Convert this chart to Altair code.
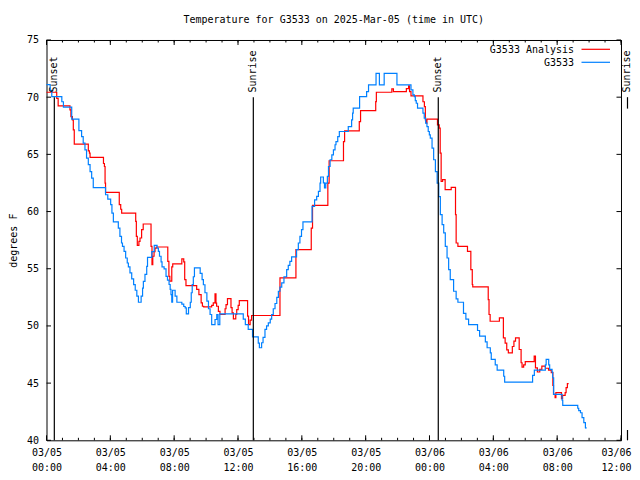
import altair as alt
import pandas as pd

# ---------------- data (hours since 2025-03-05 00:00 UTC, degrees F) ----------------
blue_hours = [0.0, 0.23, 0.33, 0.96, 1.06, 1.58, 2.03, 2.2, 2.3, 2.41, 2.51, 2.62, 2.73, 2.83, 2.93,
              3.7, 3.84, 4.02, 4.1, 4.19, 4.5, 4.6, 4.7, 4.76, 4.86, 4.96, 5.06, 5.13, 5.23, 5.34,
              5.46, 5.56, 5.66, 5.76, 5.93, 6.02, 6.07, 6.17, 6.28, 6.33, 6.6, 6.75, 6.93, 7.01,
              7.08, 7.18, 7.24, 7.37, 7.49, 7.58, 7.68, 7.75, 7.8, 7.85, 7.9, 8.06, 8.17, 8.48,
              8.6, 8.69, 8.76, 8.9, 9.01, 9.07, 9.13, 9.2, 9.27, 9.63, 9.75, 9.83, 9.93, 10.05,
              10.15, 10.25, 10.35, 10.56, 10.67, 10.75, 10.86, 12.33, 12.46, 12.64, 12.91, 13.27,
              13.34, 13.48, 13.57, 13.69, 13.79, 13.9, 14.02, 14.11, 14.21, 14.32, 14.43, 14.53,
              14.63, 14.74, 14.88, 15.05, 15.15, 15.25, 15.36, 15.67, 15.78, 15.88, 15.98, 16.07,
              16.64, 16.8, 16.93, 17.04, 17.14, 17.18, 17.35, 17.42, 17.5, 17.6, 17.67, 17.77,
              17.88, 17.98, 18.08, 18.14, 18.25, 18.35, 18.91, 19.12, 19.18, 19.22, 19.62, 20.06,
              20.18, 20.65, 20.86, 21.16, 21.96, 22.84, 22.96, 23.05, 23.11, 23.17, 23.25, 23.59,
              23.67, 23.76, 23.84, 23.92, 23.99, 24.05, 24.16, 24.26, 24.37, 24.48, 24.58, 24.68,
              24.79, 24.89, 24.99, 25.1, 25.2, 25.3, 25.51, 25.67, 25.78, 26.13, 26.28, 26.45,
              27.01, 27.14, 27.5, 27.61, 27.81, 27.87, 28.12, 28.24, 28.65, 28.71, 30.46, 30.57,
              31.26, 31.31, 31.47, 31.53, 31.68, 31.72, 31.78, 32.31, 32.35, 33.29, 33.35, 33.46,
              33.56, 33.67, 33.77, 33.8]
blue_temps = [71.1, 70.6, 70.05, 69.6, 69.13, 68.08, 67.08, 66.56, 65.98, 65.4, 64.67, 64.1, 63.5, 62.93, 62.1,
              61.47, 61.09, 60.6, 59.87, 59.09, 58.56, 57.83, 57.25, 56.96, 56.52, 55.94, 55.5, 55.16, 54.64, 54.11,
              53.61, 53.12, 52.6, 52.07, 52.6, 53.3, 53.9, 54.5, 55.2, 56.0, 56.5, 57.05, 56.8, 56.52,
              56.09, 55.6, 55.16, 54.99, 54.34, 54.0, 53.62, 53.2, 52.74, 52.07, 53.12, 52.6, 52.07, 51.9,
              51.7, 51.58, 51.06, 51.6, 52.07, 52.9, 53.62, 54.3, 55.07, 54.6, 54.05, 53.6, 52.9, 52.16,
              51.5, 51.0, 50.12, 50.56, 51.0, 50.12, 51.06, 50.6, 50.12, 49.69, 49.05, 48.5,
              48.09, 48.53, 49.0, 49.69, 50.0, 50.27, 50.6, 51.0, 51.5, 51.96, 52.5, 53.03,
              53.4, 53.76, 54.3, 54.92, 55.3, 55.65, 56.03, 56.67, 57.25, 57.83, 58.42, 59.09,
              60.45, 61.03, 61.32, 61.76, 62.49, 63.02, 62.5, 62.06, 62.49, 63.07, 63.94, 64.53,
              64.96, 65.4, 65.84, 66.12, 66.56, 67.0, 67.43, 68.02, 68.6, 69.04, 70.05, 70.49,
              71.07, 72.09, 71.07, 72.09, 71.07, 70.64, 70.2, 70.05, 69.7, 69.47, 69.04, 68.6,
              68.17, 67.73, 67.43, 67.0, 66.7, 66.42, 65.55, 64.53, 63.5, 62.49, 61.3, 59.73,
              58.85, 58.13, 56.96, 55.94, 54.92, 54.05, 53.03, 52.36, 52.07, 51.1, 50.6, 50.12,
              49.6, 49.1, 48.6, 48.09, 47.65, 47.07, 46.6, 46.14, 45.6, 45.09, 45.67, 46.14,
              46.6, 47.07, 46.6, 46.2, 45.97, 45.47, 44.01, 43.5, 43.05, 42.8, 42.6, 42.41,
              41.98, 41.54, 41.1, 41.0]

red_hours = [0.0, 0.64, 0.73, 1.47, 1.53, 1.62, 1.68, 1.74, 2.62, 2.69, 2.73, 3.57, 3.63, 3.67, 3.7,
             4.56, 4.65, 4.71, 5.59, 5.63, 5.69, 5.79, 5.86, 5.96, 6.06, 6.55, 6.61, 6.66, 6.74,
             6.8, 6.88, 7.6, 7.67, 7.73, 7.85, 7.91, 8.48, 8.6, 8.66, 8.74, 9.41, 9.55, 9.69,
             9.77, 9.85, 10.35, 10.45, 10.56, 10.62, 10.66, 10.77, 10.87, 11.19, 11.25, 11.34,
             11.56, 11.63, 11.71, 11.86, 11.92, 12.01, 12.08, 12.6, 12.66, 12.76, 12.85, 14.63,
             15.63, 16.59, 16.67, 17.63, 17.71, 18.61, 18.68, 19.6, 19.68, 20.63, 20.67, 21.64,
             21.74, 22.55, 22.69, 22.75, 22.84, 23.59, 23.68, 23.74, 23.8, 23.84, 24.5, 24.61,
             24.67, 24.73, 24.82, 24.98, 25.36, 25.63, 25.67, 25.78, 26.38, 26.59, 26.68, 26.71,
             27.68, 27.73, 27.8, 28.38, 28.63, 28.74, 28.84, 28.94, 29.19, 29.29, 29.39, 29.62,
             29.74, 29.8, 29.9, 30.0, 30.56, 30.64, 30.76, 30.91, 31.04, 31.26, 31.46, 31.63,
             31.73, 31.77, 31.87, 31.92, 32.27, 32.34, 32.5, 32.56, 32.64, 32.72]
red_temps = [70.43, 69.9, 69.24, 68.89, 68.3, 68.02, 67.14, 65.9, 65.3, 65.11, 64.73, 64.2, 63.94, 62.49, 61.67,
             60.6, 60.2, 59.87, 59.14, 57.83, 57.05, 57.4, 57.69, 58.42, 58.91, 56.96, 55.36, 56.09, 56.5,
             56.81, 56.9, 55.65, 54.34, 53.91, 55.16, 55.42, 55.86, 55.6, 54.05, 53.53, 53.2, 52.74, 52.02,
             51.72, 51.67, 51.8, 52.02, 52.8, 52.0, 51.72, 51.28, 51.0, 51.5, 51.87, 52.39,
             51.6, 51.14, 50.62, 51.0, 51.43, 51.8, 52.22, 50.85, 50.12, 50.5, 50.91, 54.2,
             56.67, 58.56, 60.54, 62.49, 64.44, 66.12, 67.06, 67.87, 68.83, 69.62, 70.43, 70.72,
             70.49, 70.75, 71.0, 70.49, 70.11, 69.6, 69.18, 68.02, 67.73, 68.08, 67.58, 67.29,
             65.11, 62.63, 62.8, 61.91, 62.11, 59.73, 57.25, 56.96, 56.52, 54.92, 53.62, 53.41,
             52.3, 51.0, 50.41, 50.7, 48.96, 48.5, 47.9, 47.65, 48.2, 48.67, 48.96, 47.94,
             46.78, 46.4, 46.6, 46.87, 47.36, 46.34, 45.97, 46.2, 46.49, 46.3, 46.14, 45.91,
             44.8, 44.01, 43.73, 44.16, 43.64, 43.93, 44.16, 44.6, 44.95, 44.95]

series_names = ["G3533 Analysis", "G3533"]
series_colors = ["#ff0000", "#0080ff"]

event_names = ["Sunset", "Sunrise", "Sunset", "Sunrise"]
event_hours = [0.49, 12.96, 24.55, 37.0]

x_major = list(range(0, 37, 4))
x_minor = list(range(0, 37))
y_ticks = [40, 45, 50, 55, 60, 65, 70, 75]

title_text = "Temperature for G3533 on 2025-Mar-05 (time in UTC)"

# ---------------- chart ----------------
FONT = "DejaVu Sans Mono"
W, H = 574.5, 400.3

xs = alt.Scale(domain=[0, 36], nice=False, zero=False)
ys = alt.Scale(domain=[40, 75], nice=False, zero=False)

red_df = pd.DataFrame({"hour": red_hours, "temp": red_temps})
blue_df = pd.DataFrame({"hour": blue_hours, "temp": blue_temps})

x_axis = alt.Axis(values=x_major,
                  labelExpr="[datum.value < 24 ? '03/05' : '03/06', "
                            "(datum.value % 24 < 10 ? '0' : '') + (datum.value % 24) + ':00']",
                  labelFont=FONT, labelFontSize=10, labelColor="black",
                  ticks=False, tickSize=0, domain=False, grid=False,
                  labelPadding=7, labelLineHeight=15, labelBaseline="top",
                  labelAlign={"condition": {"test": "datum.value >= 36", "value": "right"},
                              "value": "center"},
                  labelOffset={"condition": {"test": "datum.value >= 36", "value": 10},
                               "value": 0},
                  labelFlush=False, labelOverlap=False, labelAngle=0, title=None)
y_axis = alt.Axis(values=y_ticks, labelFont=FONT, labelFontSize=10, labelColor="black",
                  ticks=False, tickSize=0, domain=False, grid=False, labelPadding=8,
                  labelFlush=False, labelOverlap=False, title="degrees F", titleFont=FONT,
                  titleFontSize=10, titleFontWeight="normal", titleColor="black",
                  titleX=-33, titleY=H / 2, titleAngle=270, titleAlign="center",
                  titleBaseline="middle")


def X(field):
    return alt.X(field, scale=xs, axis=x_axis)


def Y(field):
    return alt.Y(field, scale=ys, axis=y_axis)


red_line = alt.Chart(red_df).mark_line(interpolate="step-after", strokeWidth=1.2,
                                       color=series_colors[0]).encode(
    x=X("hour:Q"), y=Y("temp:Q"))
blue_line = alt.Chart(blue_df).mark_line(interpolate="step-after", strokeWidth=1.2,
                                         color=series_colors[1]).encode(
    x=X("hour:Q"), y=Y("temp:Q"))

# inward tick marks on all four sides
minor_df = pd.DataFrame({"hour": x_minor})
major_df = pd.DataFrame({"hour": x_major})
ytick_df = pd.DataFrame({"temp": y_ticks})
tick_layers = []
for d, ln in [(minor_df, 2.5), (major_df, 5)]:
    tick_layers.append(alt.Chart(d).mark_rule(color="black", strokeWidth=1).encode(
        x=X("hour:Q"), y=alt.value(H), y2=alt.value(H - ln)))
    tick_layers.append(alt.Chart(d).mark_rule(color="black", strokeWidth=1).encode(
        x=X("hour:Q"), y=alt.value(0), y2=alt.value(ln)))
tick_layers.append(alt.Chart(ytick_df).mark_rule(color="black", strokeWidth=1).encode(
    y=Y("temp:Q"), x=alt.value(0), x2=alt.value(4.5)))
tick_layers.append(alt.Chart(ytick_df).mark_rule(color="black", strokeWidth=1).encode(
    y=Y("temp:Q"), x=alt.value(W), x2=alt.value(W - 4.5)))

# sunrise / sunset markers
ev_df = pd.DataFrame({"name": event_names, "hour": event_hours})
ev_df["top"] = 70.0
ev_df["bottom"] = 40.0
ev_df["label_at"] = 70.4
ev_in = alt.Chart(ev_df).transform_filter("datum.hour <= 36")
ev_out = alt.Chart(ev_df).transform_filter("datum.hour > 36")
ev_lines = ev_in.mark_rule(color="black", strokeWidth=1.2).encode(
    x=X("hour:Q"), y=Y("top:Q"), y2="bottom:Q")
ev_text = ev_in.mark_text(angle=270, align="left", baseline="middle", font=FONT,
                          fontSize=10, color="black").encode(
    x=X("hour:Q"), y=Y("label_at:Q"), text="name:N")
# the event beyond the right edge of the time axis sits just outside the frame
OUT_X = W + 6.5
ev_out_top = ev_out.transform_calculate(t2="datum.top - 1").mark_rule(
    color="black", strokeWidth=1.2).encode(x=alt.value(OUT_X), y=Y("top:Q"), y2="t2:Q")
ev_out_bot = ev_out.transform_calculate(b2="datum.bottom + 0.9").mark_rule(
    color="black", strokeWidth=1.2).encode(x=alt.value(OUT_X), y=Y("b2:Q"), y2="bottom:Q")
ev_out_text = ev_out.mark_text(angle=270, align="left", baseline="middle", font=FONT,
                               fontSize=10, color="black").encode(
    x=alt.value(OUT_X), y=Y("label_at:Q"), text="name:N")

# gnuplot-style legend (label, then line sample)
legend_layers = []
for i, (nm, col) in enumerate(zip(series_names, series_colors)):
    ldf = pd.DataFrame({"name": [nm]})
    legend_layers.append(alt.Chart(ldf).mark_text(align="right", baseline="middle", font=FONT,
                                                  fontSize=10, color="black").encode(
        x=alt.value(527.5), y=alt.value(10 + 13.3 * i), text="name:N"))
    legend_layers.append(alt.Chart(ldf).mark_rule(color=col, strokeWidth=1.2).encode(
        x=alt.value(535), x2=alt.value(563.5), y=alt.value(9.3 + 13 * i)))

chart = alt.layer(
    red_line, blue_line, *tick_layers, ev_lines, ev_text, ev_out_top, ev_out_bot, ev_out_text,
    *legend_layers
).properties(
    width=W, height=H,
    title=alt.TitleParams(text=title_text, font=FONT, fontSize=10, fontWeight="normal",
                          color="black", anchor="middle", baseline="alphabetic", offset=2),
    autosize=alt.AutoSizeParams(type="none"),
    padding={"left": 38.5, "top": 32, "right": 11, "bottom": 39},
    background="white",
).configure_view(stroke="black", strokeWidth=1)

chart.save("out.html", embed_options={"renderer": "svg", "actions": False})
